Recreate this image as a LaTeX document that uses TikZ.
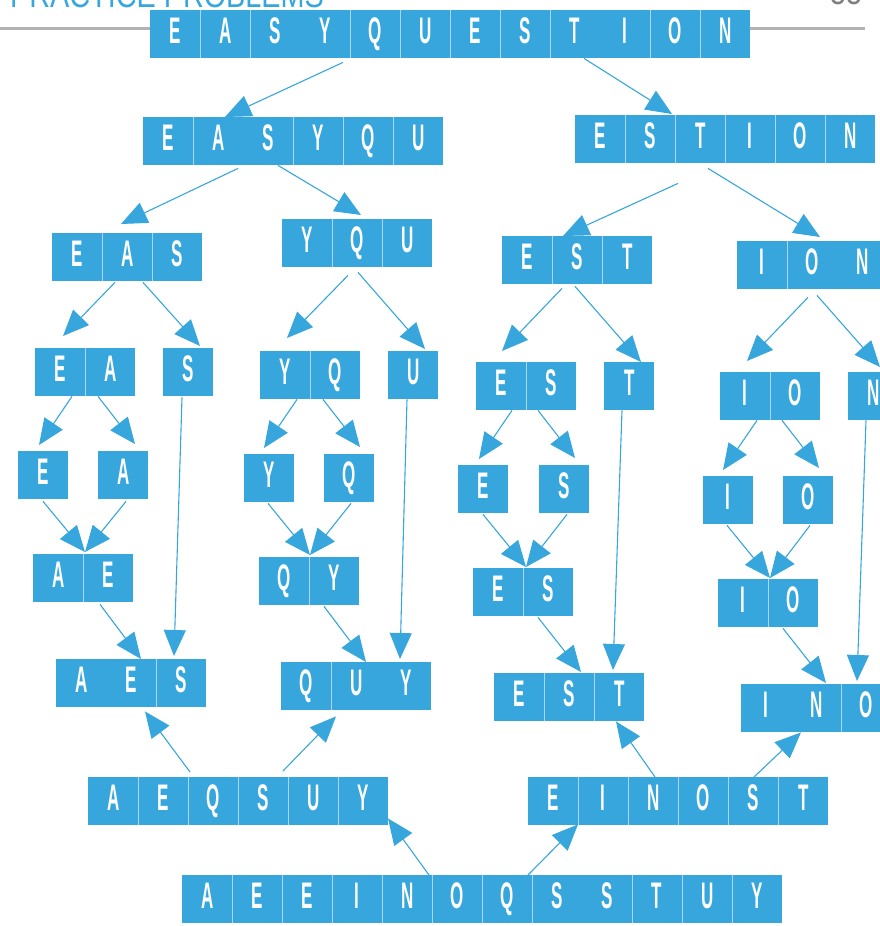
\documentclass[tikz,border=0pt]{standalone}
\usepackage{fontspec}
\usetikzlibrary{arrows.meta,calc}
\newfontfamily\cellfont{Liberation Sans}[FakeStretch=0.46]
\newfontfamily\headfont{Liberation Sans}[FakeStretch=0.8]
\definecolor{sortblue}{HTML}{36A6DC}
\definecolor{sepblue}{HTML}{A9D6F0}
\newcommand\ltr[1]{\makebox[50pt]{#1}}
\newcommand\wbox[4][]{%
  \node[cellbox] (#2) at (#3) {#4};
  \if\relax\detokenize{#1}\relax\else
  \foreach \k in {#1} {\draw[sepline] ($(#2.north west)+(\k*50,0)$) -- ($(#2.south west)+(\k*50,0)$);}%
  \fi}
\begin{document}
\begin{tikzpicture}[x=1pt,y=-1pt,
cellbox/.style={rectangle,fill=sortblue,anchor=north west,inner sep=0pt,minimum height=48pt,text=white,text height=26pt,text depth=8pt,font=\cellfont\bfseries\fontsize{37}{37}\selectfont},
sepline/.style={sepblue,line width=1pt},
arr/.style={sortblue,line width=1.1pt,-{Triangle[length=26pt,width=22pt]}}
]
\useasboundingbox (0,0) rectangle (880,926);
\draw[gray!60,line width=3pt] (0,28) -- (865,28);
\node[anchor=base west,inner sep=0pt,text=sortblue,font=\headfont\fontsize{36}{36}\selectfont] (title) at (10,7) {PRACTICE PROBLEMS};
\node[anchor=base west,inner sep=0pt,text=gray,font=\headfont\fontsize{36}{36}\selectfont] (page) at (830,5) {55};

\wbox[1,2,4,5,6,7,8,10,11]{1}{150,10}{\ltr E\ltr A\ltr S\ltr Y\ltr Q\ltr U\ltr E\ltr S\ltr T\ltr I\ltr O\ltr N}
\wbox[1,3,4,5]{2}{143,117}{\ltr E\ltr A\ltr S\ltr Y\ltr Q\ltr U}
\wbox[1,2,3,4,5]{3}{575,115}{\ltr E\ltr S\ltr T\ltr I\ltr O\ltr N}
\wbox[1,2]{4}{52,233}{\ltr E\ltr A\ltr S}
\wbox[1,2]{5}{282,219}{\ltr Y\ltr Q\ltr U}
\wbox[1,2]{6}{502,236}{\ltr E\ltr S\ltr T}
\wbox[1]{7}{737,241}{\ltr I\ltr O\ltr N}
\wbox[1]{8}{35,348}{\ltr E\ltr A}
\wbox{9}{163,348}{\ltr S}
\wbox[1]{10}{260,351}{\ltr Y\ltr Q}
\wbox{11}{388,351}{\ltr U}
\wbox[1]{12}{476,362}{\ltr E\ltr S}
\wbox{13}{604,362}{\ltr T}
\wbox[1]{14}{720,372}{\ltr I\ltr O}
\wbox{15}{848,372}{\ltr N}
\wbox{16}{18,451}{\ltr E}
\wbox{17}{98,451}{\ltr A}
\wbox{20}{244,454}{\ltr Y}
\wbox{21}{324,454}{\ltr Q}
\wbox{24}{458,465}{\ltr E}
\wbox{25}{539,465}{\ltr S}
\wbox{28}{703,476}{\ltr I}
\wbox{29}{783,476}{\ltr O}
\wbox[1]{m8}{33,554}{\ltr A\ltr E}
\wbox[1]{m10}{259,557}{\ltr Q\ltr Y}
\wbox[1]{m12}{473,568}{\ltr E\ltr S}
\wbox[1]{m14}{718,579}{\ltr I\ltr O}
\wbox[2]{m4}{56,659}{\ltr A\ltr E\ltr S}
\wbox[1]{m5}{281,662}{\ltr Q\ltr U\ltr Y}
\wbox[1,2]{m6}{494,673}{\ltr E\ltr S\ltr T}
\wbox[2]{m7}{741,684}{\ltr I\ltr N\ltr O}
\wbox[1,2,3,4,5]{m2}{88,777}{\ltr A\ltr E\ltr Q\ltr S\ltr U\ltr Y}
\wbox[1,2,3,4,5]{m3}{528,777}{\ltr E\ltr I\ltr N\ltr O\ltr S\ltr T}
\wbox[1,2,3,4,5,6,7,9,10,11]{m1}{182,875}{\ltr A\ltr E\ltr E\ltr I\ltr N\ltr O\ltr Q\ltr S\ltr S\ltr T\ltr U\ltr Y}

\draw[arr] ($(1.south west)+(193,4)$) -- ($(2.north west)+(82,0)$);
\draw[arr] ($(1.south west)+(434,0)$) -- ($(3.north west)+(97,-1)$);
\draw[arr] ($(2.south west)+(95,3)$) -- ($(4.north west)+(69,-9)$);
\draw[arr] ($(2.south west)+(135,0)$) -- ($(5.north west)+(79,-4)$);
\draw[arr] ($(3.south west)+(103,20)$) -- ($(6.north west)+(61,0)$);
\draw[arr] ($(3.south west)+(133,5)$) -- ($(7.north west)+(83,-4)$);
\draw[arr] ($(4.south west)+(63,1)$) -- ($(8.north west)+(28,-12)$);
\draw[arr] ($(4.south west)+(91,1)$) -- ($(9.north west)+(37,-2)$);
\draw[arr] ($(5.south west)+(66,8)$) -- ($(10.north west)+(27,-13)$);
\draw[arr] ($(5.south west)+(76,5)$) -- ($(11.north west)+(37,-2)$);
\draw[arr] ($(6.south west)+(60,4)$) -- ($(12.north west)+(26,-11)$);
\draw[arr] ($(6.south west)+(73,2)$) -- ($(13.north west)+(37,0)$);
\draw[arr] ($(7.south west)+(71,8)$) -- ($(14.north west)+(27,-11)$);
\draw[arr] ($(7.south west)+(80,6)$) -- ($(15.north west)+(32,-5)$);
\draw[arr] ($(8.south west)+(37,0)$) -- ($(16.north west)+(21,-6)$);
\draw[arr] ($(8.south west)+(63,0)$) -- ($(17.north west)+(37,-7)$);
\draw[arr] ($(10.south west)+(37,0)$) -- ($(20.north west)+(20,-6)$);
\draw[arr] ($(10.south west)+(63,0)$) -- ($(21.north west)+(36,-7)$);
\draw[arr] ($(12.south west)+(36,0)$) -- ($(24.north west)+(21,-6)$);
\draw[arr] ($(12.south west)+(62,0)$) -- ($(25.north west)+(36,-7)$);
\draw[arr] ($(14.south west)+(37,0)$) -- ($(28.north west)+(20,-6)$);
\draw[arr] ($(14.south west)+(62,0)$) -- ($(29.north west)+(36,-8)$);
\draw[arr] ($(16.south west)+(25,2)$) -- ($(m8.north west)+(52,-2)$);
\draw[arr] ($(17.south west)+(28,2)$) -- ($(m8.north west)+(52,-2)$);
\draw[arr] ($(20.south west)+(24,1)$) -- ($(m10.north west)+(51,-2)$);
\draw[arr] ($(21.south west)+(27,1)$) -- ($(m10.north west)+(51,-2)$);
\draw[arr] ($(24.south west)+(25,1)$) -- ($(m12.north west)+(53,-1)$);
\draw[arr] ($(25.south west)+(28,1)$) -- ($(m12.north west)+(53,-1)$);
\draw[arr] ($(28.south west)+(24,1)$) -- ($(m14.north west)+(52,-1)$);
\draw[arr] ($(29.south west)+(27,1)$) -- ($(m14.north west)+(52,-1)$);
\draw[arr] ($(m8.south west)+(67,2)$) -- ($(m4.north west)+(85,0)$);
\draw[arr] ($(9.south west)+(19,1)$) -- ($(m4.north west)+(118,-3)$);
\draw[arr] ($(m10.south west)+(65,1)$) -- ($(m5.north west)+(85,0)$);
\draw[arr] ($(11.south west)+(19,0)$) -- ($(m5.north west)+(119,-3)$);
\draw[arr] ($(m12.south west)+(65,1)$) -- ($(m6.north west)+(87,-1)$);
\draw[arr] ($(13.south west)+(18,0)$) -- ($(m6.north west)+(119,-3)$);
\draw[arr] ($(m14.south west)+(65,1)$) -- ($(m7.north west)+(85,-1)$);
\draw[arr] ($(15.south west)+(18,0)$) -- ($(m7.north west)+(116,-3)$);
\draw[arr] ($(m2.north west)+(102,-5)$) -- ($(m4.south west)+(89,4)$);
\draw[arr] ($(m2.north west)+(195,-6)$) -- ($(m5.south west)+(55,6)$);
\draw[arr] ($(m3.north west)+(127,0)$) -- ($(m6.south west)+(122,0)$);
\draw[arr] ($(m3.north west)+(226,0)$) -- ($(m7.south west)+(60,0)$);
\draw[arr] ($(m1.north west)+(247,0)$) -- ($(m2.south west)+(300,-7)$);
\draw[arr] ($(m1.north west)+(346,0)$) -- ($(m3.south west)+(50,-1)$);
\end{tikzpicture}
\end{document}
